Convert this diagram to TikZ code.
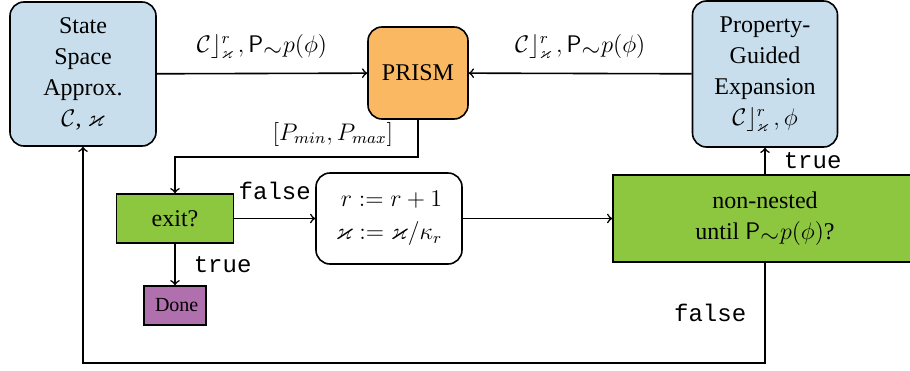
\documentclass[tikz,border=0pt,12pt]{standalone}
\usepackage{amssymb}
\usepackage{fontspec}
\setmainfont{Liberation Serif}
\setmonofont{Liberation Mono}
\usetikzlibrary{positioning}
\definecolor{approx_blue}  {HTML} {C8DEEC}
\definecolor{prism_orange} {HTML} {FBB862}
\definecolor{test_green}   {HTML} {8DC63F}
\definecolor{done_purple}  {HTML} {B070AE}

\tikzset{
  stagebox/.style={draw=black,thick,rounded corners=7pt,align=center,inner sep=0pt},
  testbox/.style={draw=black,thick,fill=test_green,align=center,inner sep=0pt},
  flow/.style={thick,black,->}
}

\begin{document}
\begin{tikzpicture}[x=0.5pt,y=-0.5pt,font=\fontsize{12}{15.5}\selectfont]
\useasboundingbox (0,0) rectangle (910,370);
\node[stagebox,fill=approx_blue,minimum width=73pt,minimum height=72pt] (approx) at (83,74) {State\\Space\\Approx.\\$\mathcal{C}$, $\varkappa$};
\node[stagebox,fill=prism_orange,minimum width=50pt,minimum height=46pt] (prism) at (418,73) {PRISM};
\node[stagebox,fill=approx_blue,minimum width=72.5pt,minimum height=73pt] (expand) at (765,74) {Property-\\Guided\\Expansion\\$\mathcal{C}\rfloor^r_\varkappa\,, \phi$};
\node[testbox,minimum width=58.5pt,minimum height=24.5pt] (exit) at (175,218.5) {exit?};
\node[draw=black,thick,fill=done_purple,minimum width=31pt,minimum height=19.5pt,inner sep=0pt,font=\fontsize{10}{12}\selectfont] (done) at (175,305.5) {\,Done};
\node[stagebox,fill=white,minimum width=73pt,minimum height=45.5pt,align=right] (refine) at (389,218.5) {$r := r+1$\\[1pt]$\varkappa := \varkappa/\kappa_r$};
\node[testbox,minimum width=152pt,minimum height=43.5pt] (until) at (765,218.5) {non-nested\\until $\mathsf{P}_{\textstyle\sim}p(\phi)$?};
\coordinate (bend) at (418,157);
\coordinate (low) at (765,363);
\draw[flow] (approx) -- node[above=3pt] {$\mathcal{C}\rfloor^r_\varkappa\,, \mathsf{P}_{\textstyle\sim}p(\phi)$} (prism);
\draw[flow] (expand) -- node[above=3pt] {$\mathcal{C}\rfloor^r_\varkappa\,, \mathsf{P}_{\textstyle\sim}p(\phi)$} (prism);
\draw[flow] (prism.south) -- (bend) node[above left=1pt and 8pt] {$[P_{min}, P_{max}]$} -| (exit.north);
\draw[flow] (exit) -- node[above=5pt] {\texttt{false}} (refine);
\draw[flow] (exit) -- node[right=5pt] {\texttt{true}} (done);
\draw[flow] (refine) -- (until);
\draw[flow] (expand.south |- until.north) -- node[right=5pt] {\texttt{true}} (expand.south);
\draw[flow] (low |- until.south) -- node[left=5pt] {\texttt{false}} (low) -| (approx.south);
\end{tikzpicture}
\end{document}
